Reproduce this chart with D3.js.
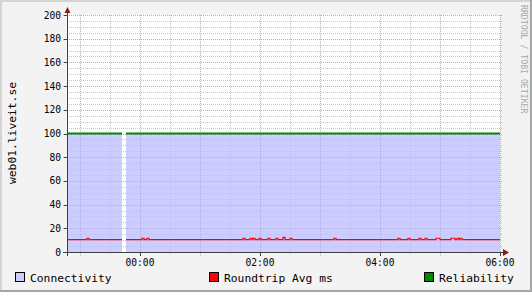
<!DOCTYPE html>
<html>
<head>
<meta charset="utf-8">
<script src="https://cdn.jsdelivr.net/npm/d3@7"></script>
<style>
  html, body { margin: 0; padding: 0; background: #f3f3f3; }
  svg { display: block; font-family: "DejaVu Sans Mono", monospace; }
</style>
</head>
<body>
<script>
// data, time in minutes relative to 00:00
const timeRange = [-73, 360];
const timeTicks = [0, 120, 240, 360];
const timeLabels = ["00:00", "02:00", "04:00", "06:00"];
const valueTicks = [0, 20, 40, 60, 80, 100, 120, 140, 160, 180, 200];

const connTimes  = [-73, -18, -18, -14, 360];
const connValues = [100, 100, null, 100, 100];

const relTimes  = [-73, -18, -18, -14, 360];
const relValues = [100, 100, null, 100, 100];

const rttTimes  = [-73, -53, -51, -18, -18, -14, 2, 4, 7, 9, 103, 105, 110, 112, 113, 115, 119, 121, 128, 130,
                   136, 138, 143, 145, 150, 152, 194, 196, 258, 260, 268, 270, 279, 281, 285, 287, 296, 300,
                   311, 315, 317, 319, 320, 322, 360];
const rttValues = [10.5, 11.6, 10.5, 10.5, null, 10.5, 11.6, 10.5, 11.6, 10.5, 11.6, 10.5, 11.6, 10.5, 11.6, 10.5, 11.6, 10.5, 11.6, 10.5,
                   11.6, 10.5, 12.3, 10.5, 11.6, 10.5, 11.6, 10.5, 11.6, 10.5, 11.6, 10.5, 11.6, 10.5, 11.6, 10.5, 11.6, 10.5,
                   11.6, 10.5, 11.6, 10.5, 11.6, 10.5, 10.5];

const legendNames  = ["Connectivity", "Roundtrip Avg ms", "Reliability"];
const legendColors = ["#ccccff", "#ff0000", "#008800"];

const W = 532, H = 292;
const svg = d3.select("body").append("svg").attr("width", W).attr("height", H);

// frame
svg.append("rect").attr("width", W).attr("height", H).attr("fill", "#f3f3f3");
svg.append("rect").attr("x", 0).attr("y", 0).attr("width", W).attr("height", 2).attr("fill", "#d4d4d4");
svg.append("rect").attr("x", 0).attr("y", 0).attr("width", 2).attr("height", H).attr("fill", "#d4d4d4");
svg.append("rect").attr("x", 0).attr("y", H - 2).attr("width", W).attr("height", 2).attr("fill", "#a4a4a4");
svg.append("rect").attr("x", W - 2).attr("y", 0).attr("width", 2).attr("height", H).attr("fill", "#a4a4a4");

const x = d3.scaleLinear().domain(timeRange).range([67, 500]);
const y = d3.scaleLinear().domain([0, 200]).range([252, 15]);

svg.append("rect").attr("x", 67).attr("y", 15).attr("width", 433).attr("height", 237).attr("fill", "#ffffff");

const zip = (t, v) => t.map((d, i) => [d, v[i]]);

// connectivity area
const area = d3.area()
  .defined(d => d[1] != null)
  .x(d => x(d[0])).y0(y(0)).y1(d => y(d[1]))
  .curve(d3.curveStepAfter);
svg.append("path").datum(zip(connTimes, connValues))
  .attr("d", area).attr("fill", legendColors[0]);

// grid
const grid = svg.append("g").attr("shape-rendering", "crispEdges");
const minorY = d3.range(0, 201, 5).filter(v => v % 20 !== 0);
const minorX = d3.range(-60, 361, 30).filter(v => v % 60 !== 0);
const majorX = d3.range(-60, 361, 60);

grid.selectAll(".hmin").data(minorY).enter().append("line")
  .attr("x1", 67).attr("x2", 503).attr("y1", d => Math.round(y(d)) + 0.5).attr("y2", d => Math.round(y(d)) + 0.5)
  .attr("stroke", "#c8c8c8").attr("stroke-dasharray", "1,1");
grid.selectAll(".vmin").data(minorX).enter().append("line")
  .attr("y1", 15).attr("y2", 255).attr("x1", d => Math.round(x(d)) + 0.5).attr("x2", d => Math.round(x(d)) + 0.5)
  .attr("stroke", "#c8c8c8").attr("stroke-dasharray", "1,1");
grid.selectAll(".hmaj").data(valueTicks.slice(1)).enter().append("line")
  .attr("x1", 63).attr("x2", 503).attr("y1", d => Math.round(y(d)) + 0.5).attr("y2", d => Math.round(y(d)) + 0.5)
  .attr("stroke", "#e6a0a0").attr("stroke-dasharray", "1,1");
grid.selectAll(".vmaj").data(majorX).enter().append("line")
  .attr("y1", 15).attr("y2", 256).attr("x1", d => Math.round(x(d)) + 0.5).attr("x2", d => Math.round(x(d)) + 0.5)
  .attr("stroke", "#e6a0a0").attr("stroke-dasharray", "1,1");

// lines
const line = d3.line()
  .defined(d => d[1] != null)
  .x(d => x(d[0])).y(d => y(d[1]))
  .curve(d3.curveStepAfter);
svg.append("path").datum(zip(relTimes, relValues))
  .attr("d", line).attr("fill", "none").attr("stroke", legendColors[2]).attr("stroke-width", 2);
svg.append("path").datum(zip(rttTimes, rttValues))
  .attr("d", line).attr("fill", "none").attr("stroke", legendColors[1]).attr("stroke-width", 1.2);

// axes
const axisColor = "#404040";
svg.append("line").attr("x1", 63).attr("x2", 504).attr("y1", 252.5).attr("y2", 252.5).attr("stroke", axisColor);
svg.append("line").attr("x1", 67.5).attr("x2", 67.5).attr("y1", 256).attr("y2", 12).attr("stroke", axisColor);
svg.append("path").attr("d", "M503,249 L509,252.5 L503,256 Z").attr("fill", "#8b1a1a");
svg.append("path").attr("d", "M64.5,13 L67.5,7 L70.5,13 Z").attr("fill", "#8b1a1a");

// y tick marks
svg.selectAll(".ytk").data(valueTicks).enter().append("line")
  .attr("x1", 64).attr("x2", 67).attr("y1", d => Math.round(y(d)) + 0.5).attr("y2", d => Math.round(y(d)) + 0.5)
  .attr("stroke", axisColor);
svg.selectAll(".xtk").data(timeTicks).enter().append("line")
  .attr("y1", 252).attr("y2", 256).attr("x1", d => Math.round(x(d)) + 0.5).attr("x2", d => Math.round(x(d)) + 0.5)
  .attr("stroke", axisColor);

// tick labels
svg.selectAll(".ylab").data(valueTicks).enter().append("text")
  .attr("x", 61).attr("y", d => y(d) + 3.5).attr("text-anchor", "end")
  .attr("font-size", "9.6px").attr("fill", "#000").text(d => d);
svg.selectAll(".xlab").data(timeTicks).enter().append("text")
  .attr("x", d => x(d)).attr("y", 266).attr("text-anchor", "middle")
  .attr("font-size", "9.6px").attr("fill", "#000").text((d, i) => timeLabels[i]);

// vertical title
svg.append("text").attr("transform", "translate(16,133) rotate(-90)")
  .attr("text-anchor", "middle").attr("font-size", "11.3px").attr("fill", "#000")
  .text("web01.liveit.se");

// watermark
svg.append("text").attr("transform", "translate(521,5) rotate(90)")
  .attr("font-size", "8.2px").attr("fill", "#a8a8a8")
  .text("RRDTOOL / TOBI OETIKER");

// legend
const legendX = [15, 209, 424];
const lg = svg.selectAll(".lg").data(legendNames).enter().append("g")
  .attr("transform", (d, i) => `translate(${legendX[i]},272)`);
lg.append("rect").attr("x", 0.5).attr("y", 0.5).attr("width", 9).attr("height", 9)
  .attr("fill", (d, i) => legendColors[i]).attr("stroke", "#000");
lg.append("text").attr("x", 15).attr("y", 9.5).attr("font-size", "11.3px").attr("fill", "#000").text(d => d);
</script>
</body>
</html>
